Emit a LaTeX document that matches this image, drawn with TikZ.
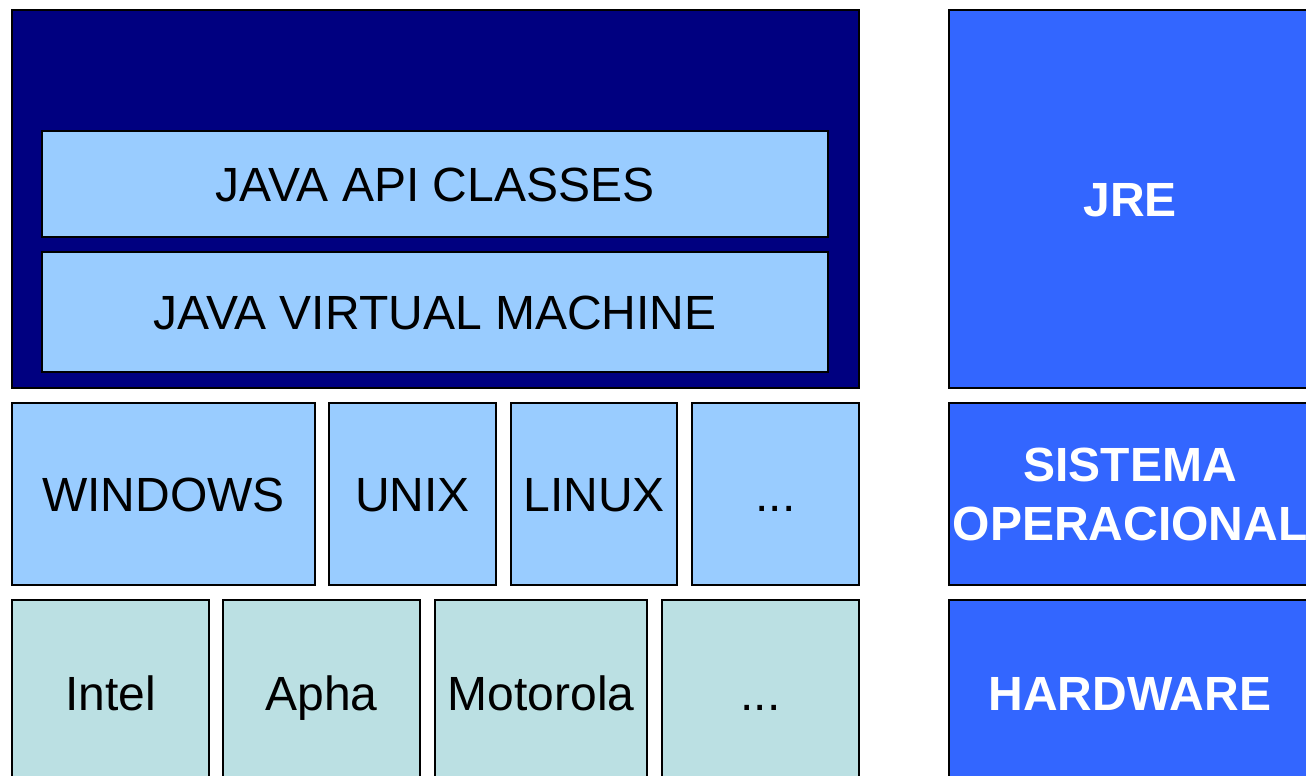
\documentclass[tikz,border=0pt]{standalone}
\usepackage{fontspec}
\setmainfont{Liberation Sans}
\definecolor{jvmnavy}{HTML}{000080}
\definecolor{layerblue}{HTML}{99CCFF}
\definecolor{hwcyan}{HTML}{BBE0E3}
\definecolor{sideblue}{HTML}{3366FF}
\begin{document}
\begin{tikzpicture}[x=1pt,y=-1pt,
    box/.style={draw, line width=1.5pt, inner sep=0pt, outer sep=0pt,
      font=\fontsize{48}{59}\selectfont, align=center, text height=34.4pt, text depth=0pt},
    soft/.style={box, fill=layerblue},
    chip/.style={box, fill=hwcyan, minimum height=186pt},
    side/.style={box, fill=sideblue, text=white, font=\fontsize{48}{59}\selectfont\bfseries,
      minimum width=362pt}]
      \useasboundingbox (0,0) rectangle (1306,776);
      \clip (0,0) rectangle (1306,776);
      % java stack
      \node[box, fill=jvmnavy, minimum width=847pt, minimum height=378pt] (jrebox) at (435.5,199) {};
      \node[soft, minimum width=786pt, minimum height=106pt] (api) at (435,184) {JAVA API CLASSES};
      \node[soft, minimum width=786pt, minimum height=120pt] (jvm) at (435,312) {JAVA VIRTUAL MACHINE};
      % sistemas operacionais
      \node[soft, minimum width=303pt, minimum height=182pt] (win) at (163.5,494) {WINDOWS};
      \node[soft, minimum width=167pt, minimum height=182pt] (unix) at (412.5,494) {UNIX};
      \node[soft, minimum width=166pt, minimum height=182pt] (linux) at (594,494) {LINUX};
      \node[soft, minimum width=167pt, minimum height=182pt] (os4) at (775.5,494) {...};
      % hardware
      \node[chip, minimum width=197pt] (intel) at (110.5,693) {Intel};
      \node[chip, minimum width=197pt] (apha) at (321.5,693) {Apha};
      \node[chip, minimum width=212pt] (moto) at (541,693) {Motorola};
      \node[chip, minimum width=197pt] (hw4) at (760.5,693) {...};
      % legenda
      \node[side, minimum height=378pt] (jre) at (1130,199) {JRE};
      \node[side, minimum height=182pt, text height=93.4pt] (so) at (1130,494) {SISTEMA\\OPERACIONAL};
      \node[side, minimum height=186pt] (hw) at (1130,693) {HARDWARE};
    \end{tikzpicture}
\end{document}
